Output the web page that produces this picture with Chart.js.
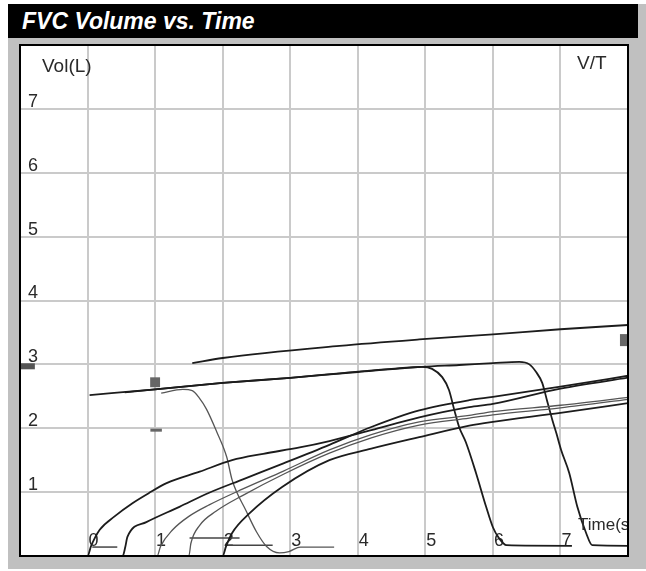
<!DOCTYPE html>
<html>
<head>
<meta charset="utf-8">
<script src="https://cdn.jsdelivr.net/npm/chart.js@4.4.0/dist/chart.umd.min.js"></script>
<style>
  html, body { margin: 0; padding: 0; background: #fff; }
  #frame { position: absolute; left: 8px; top: 4px; width: 638px; height: 565px; background: #c0c0c0; }
  #title { position: absolute; left: 8px; top: 4px; width: 630px; height: 34px; background: #000; color: #fff;
           font: italic bold 23px "Liberation Sans", Arial, sans-serif; line-height: 34px; padding-left: 14px;
           box-sizing: border-box; white-space: nowrap; }
  #plot { position: absolute; left: 20px; top: 45px; width: 608px; height: 511px; background: #fff; }
  #border { position: absolute; left: 19px; top: 44px; width: 610px; height: 513px; border: 2px solid #000;
            box-sizing: border-box; pointer-events: none; }
</style>
</head>
<body>
<div id="frame"></div>
<div id="title">FVC Volume vs. Time</div>
<div id="plot"><canvas id="chart"></canvas></div>
<div id="border"></div>

<script>
/* ---- axis ---------------------------------------------------- */
const X_MIN = -1, X_MAX = 8;
const Y_MIN = 0, Y_MAX = 8;
const X_LABELS = [0, 1, 2, 3, 4, 5, 6, 7];
const Y_LABELS = [1, 2, 3, 4, 5, 6, 7];

/* ---- trials: plateau curves that fall back (time s, volume L) -- */
const trialA_t = [0.03, 1.0, 2.0, 3.0, 3.73, 4.5, 4.95, 5.1, 5.25, 5.35, 5.43, 5.5, 5.6, 5.75, 5.9, 6.0, 6.09, 6.2, 7.17];
const trialA_v = [2.52, 2.61, 2.71, 2.79, 2.86, 2.93, 2.96, 2.93, 2.80, 2.60, 2.28, 2.02, 1.78, 1.30, 0.77, 0.45, 0.28, 0.17, 0.16];

const trialB_t = [0.55, 1.0, 2.0, 3.0, 4.0, 4.95, 5.5, 6.0, 6.39, 6.54, 6.64, 6.73, 6.8, 6.88, 6.94, 7.01, 7.13, 7.25, 7.38, 7.47, 8.05];
const trialB_v = [2.56, 2.61, 2.71, 2.79, 2.88, 2.96, 2.99, 3.02, 3.04, 3.00, 2.88, 2.71, 2.44, 2.13, 1.92, 1.66, 1.30, 0.77, 0.36, 0.17, 0.16];

const trialC_t = [1.09, 1.41, 1.55, 1.65, 1.76, 1.91, 2.06, 2.14, 2.35, 2.5, 2.65, 2.84, 2.98, 3.15, 3.65];
const trialC_v = [2.55, 2.61, 2.59, 2.48, 2.30, 1.95, 1.55, 1.19, 0.70, 0.38, 0.15, 0.05, 0.07, 0.14, 0.14];

const trialD_t = [1.55, 2.0, 3.73, 4.91, 6.0, 7.0, 8.05];
const trialD_v = [3.02, 3.10, 3.29, 3.39, 3.47, 3.55, 3.62];

/* ---- trials: rising volume-time curves ---------------------- */
const curve1_t = [-1, 0, 0.05, 0.18, 0.4, 0.67, 0.9, 1.17, 1.66, 2.14, 2.6, 3.14, 3.58, 4.2, 4.91, 5.65, 6.0, 7.0, 8.05];
const curve1_v = [0, 0, 0.15, 0.41, 0.62, 0.83, 0.98, 1.14, 1.32, 1.50, 1.60, 1.70, 1.80, 1.97, 2.17, 2.33, 2.38, 2.62, 2.80];

const curve2_t = [-1, 0.52, 0.56, 0.59, 0.87, 1.36, 1.8, 2.3, 2.9, 3.58, 4.2, 4.91, 5.65, 6.0, 7.0, 8.05];
const curve2_v = [0, 0, 0.15, 0.30, 0.53, 0.77, 0.99, 1.20, 1.45, 1.74, 2.02, 2.28, 2.44, 2.49, 2.65, 2.83];

const curve3_t = [-1, 1.03, 1.08, 1.26, 1.5, 1.8, 2.3, 2.9, 3.58, 4.2, 4.91, 5.65, 6.0, 7.0, 8.05];
const curve3_v = [0, 0, 0.15, 0.41, 0.62, 0.80, 1.05, 1.33, 1.66, 1.90, 2.10, 2.20, 2.26, 2.36, 2.49];

const curve4_t = [-1, 1.5, 1.53, 1.66, 1.9, 2.3, 2.9, 3.58, 4.2, 4.91, 5.65, 6.0, 7.0, 8.05];
const curve4_v = [0, 0, 0.20, 0.48, 0.70, 0.95, 1.28, 1.61, 1.85, 2.05, 2.16, 2.21, 2.32, 2.46];

const curve5_t = [-1, 2.0, 2.05, 2.14, 2.4, 2.88, 3.58, 4.2, 4.91, 5.65, 6.0, 7.0, 8.05];
const curve5_v = [0, 0, 0.15, 0.36, 0.67, 1.08, 1.50, 1.68, 1.86, 2.04, 2.10, 2.24, 2.40];

/* ---- short end-of-test segments near zero ------------------- */
const seg1_t = [0.07, 0.44],  seg1_v = [0.14, 0.14];
const seg2_t = [1.51, 2.25],  seg2_v = [0.28, 0.28];
const seg3_t = [2.07, 2.74],  seg3_v = [0.17, 0.17];

/* ---- markers ------------------------------------------------- */
const markSq_t = [1.0],   markSq_v = [2.72];
const markRt_t = [7.97],  markRt_v = [3.38];
const markLeft_t = [-1, -0.78], markLeft_v = [2.97, 2.97];
const markDash_t = [0.93, 1.1], markDash_v = [1.97, 1.97];

const FONT = '"Liberation Sans", Arial, sans-serif';
const TEXT = '#2a2a2a';
const GRID = '#cacaca';

function pts(ts, vs) { return ts.map((t, i) => ({ x: t, y: vs[i] })); }

function curve(ts, vs, color, width) {
  return { data: pts(ts, vs), borderColor: color, borderWidth: width, pointRadius: 0,
           cubicInterpolationMode: 'monotone', fill: false };
}
function seg(ts, vs, color, width) {
  return { data: pts(ts, vs), borderColor: color, borderWidth: width, pointRadius: 0,
           borderCapStyle: 'butt', tension: 0, fill: false };
}
function mark(ts, vs, color, r) {
  return { data: pts(ts, vs), showLine: false, pointStyle: 'rect', pointRadius: r,
           pointBackgroundColor: color, pointBorderWidth: 0 };
}

/* corner captions of the plot */
const captions = {
  id: 'captions',
  afterDraw(chart) {
    const { ctx, chartArea: a } = chart;
    ctx.save();
    ctx.fillStyle = TEXT;
    ctx.textBaseline = 'alphabetic';
    ctx.font = '19px ' + FONT;
    ctx.fillText('Vol(L)', a.left + 22, a.top + 27);
    ctx.fillText('V/T', a.left + 557, a.top + 24);
    ctx.font = '17px ' + FONT;
    ctx.fillText('Time(s)', a.left + 558, a.top + 485);
    ctx.restore();
  }
};

function flat(axis) {
  return s => {
    if (axis === 'x') s.height = 0; else s.width = 0;
    s.paddingTop = s.paddingBottom = s.paddingLeft = s.paddingRight = 0;
  };
}

new Chart(document.getElementById('chart'), {
  type: 'line',
  data: {
    datasets: [
      curve(curve1_t, curve1_v, '#1c1c1c', 1.8),
      curve(curve2_t, curve2_v, '#1c1c1c', 1.8),
      curve(curve3_t, curve3_v, '#555555', 1.3),
      curve(curve4_t, curve4_v, '#555555', 1.3),
      curve(curve5_t, curve5_v, '#1c1c1c', 1.8),
      curve(trialA_t, trialA_v, '#1c1c1c', 1.8),
      curve(trialB_t, trialB_v, '#1c1c1c', 1.8),
      curve(trialC_t, trialC_v, '#555555', 1.3),
      curve(trialD_t, trialD_v, '#1c1c1c', 1.8),
      seg(seg1_t, seg1_v, '#444444', 1.5),
      seg(seg2_t, seg2_v, '#444444', 1.5),
      seg(seg3_t, seg3_v, '#444444', 1.5),
      seg(markLeft_t, markLeft_v, '#555555', 6),
      seg(markDash_t, markDash_v, '#666666', 3),
      mark(markSq_t, markSq_v, '#666666', 7),
      mark(markRt_t, markRt_v, '#666666', 8.5)
    ]
  },
  options: {
    responsive: true,
    maintainAspectRatio: false,
    animation: false,
    events: [],
    layout: { padding: 0, autoPadding: false },
    plugins: { legend: { display: false }, tooltip: { enabled: false } },
    scales: {
      x: {
        type: 'linear', min: X_MIN, max: X_MAX,
        afterFit: flat('x'),
        border: { display: false },
        grid: { color: GRID, lineWidth: 2, drawTicks: false },
        ticks: {
          stepSize: 1, autoSkip: false, maxRotation: 0, mirror: true, padding: 4, labelOffset: 6,
          color: TEXT, font: { size: 18, family: FONT },
          callback: v => X_LABELS.includes(v) ? String(v) : null
        }
      },
      y: {
        type: 'linear', min: Y_MIN, max: Y_MAX,
        afterFit: flat('y'),
        border: { display: false },
        grid: { color: GRID, lineWidth: 2, drawTicks: false },
        ticks: {
          stepSize: 1, autoSkip: false, mirror: true, padding: 8, labelOffset: -7,
          color: TEXT, font: { size: 18, family: FONT },
          callback: v => Y_LABELS.includes(v) ? String(v) : null
        }
      }
    }
  },
  plugins: [captions]
});
</script>
</body>
</html>
